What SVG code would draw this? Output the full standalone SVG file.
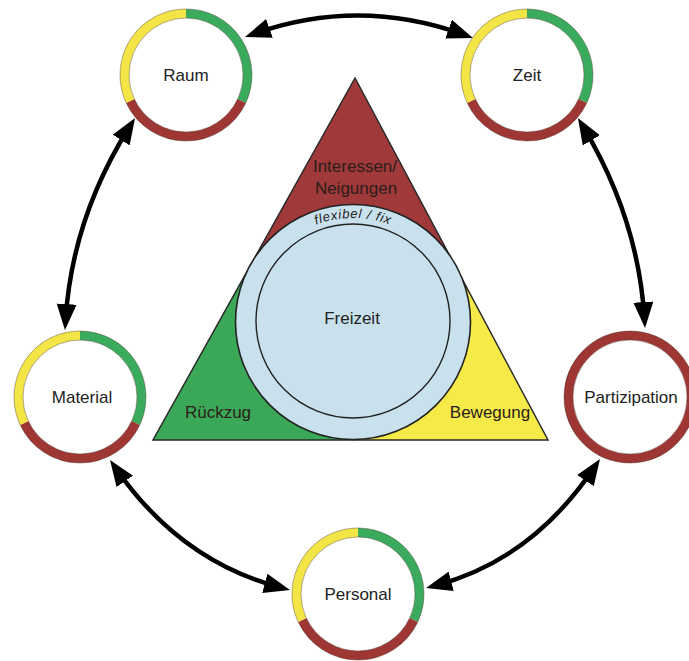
<svg xmlns="http://www.w3.org/2000/svg" xmlns:xlink="http://www.w3.org/1999/xlink" width="689" height="661" viewBox="0 0 689 661">
<style>
.lbl{font-family:"Liberation Sans",Arial,sans-serif;font-size:17px;fill:#222;text-anchor:middle}
.tlbl{font-family:"Liberation Sans",Arial,sans-serif;font-size:17px;fill:#2a1d1a;text-anchor:middle}
.arc{font-family:"Liberation Sans",Arial,sans-serif;font-size:13px;font-style:italic;fill:#222;letter-spacing:0.8px}
.conn{fill:none;stroke:#000;stroke-width:4.5}
.seg{fill:none;stroke-width:9}
.edge{fill:none;stroke:#4a3a30;stroke-width:0.7;stroke-opacity:0.6}
</style>
<defs>
<marker id="ah" markerUnits="userSpaceOnUse" markerWidth="26" markerHeight="20" viewBox="0 0 26 20" refX="16" refY="10" orient="auto-start-reverse">
<path d="M0,0 L26,10 L0,20 z" fill="#000"/>
</marker>
<g id="ring3">
<circle r="61.5" fill="#fff"/>
<path class="seg" stroke="#3aaa5c" d="M0,-61.5 A61.5,61.5 0 0 1 55.74,25.99"/>
<path class="seg" stroke="#9e3633" d="M55.74,25.99 A61.5,61.5 0 0 1 -55.74,25.99"/>
<path class="seg" stroke="#f3e545" d="M-55.74,25.99 A61.5,61.5 0 0 1 0,-61.5"/>
<circle class="edge" r="66"/>
<circle class="edge" r="57"/>
</g>
<g id="ringred">
<circle r="61.5" fill="#fff"/>
<circle class="seg" stroke="#9e3633" r="61.5"/>
<circle class="edge" r="66"/>
<circle class="edge" r="57"/>
</g>
<path id="flexarc" d="M249,322 A104,104 0 0 1 457,322"/>
</defs>

<g id="triangle">
<polygon points="355,78 250.7,264.9 353,322 455.8,267.1" fill="#a0393a"/>
<polygon points="153,440 250.7,264.9 353,322 353,440" fill="#3aa856"/>
<polygon points="548,440 455.8,267.1 353,322 353,440" fill="#f5ea48"/>
<polygon points="355,78 153,440 548,440" fill="none" stroke="#2a2a2a" stroke-width="1.5" stroke-linejoin="miter"/>
<text class="tlbl" x="355" y="172">Interessen/</text>
<text class="tlbl" x="356" y="194">Neigungen</text>
<text class="tlbl" x="218" y="418">Rückzug</text>
<text class="tlbl" x="490" y="418">Bewegung</text>
</g>

<g id="freizeit">
<circle cx="353" cy="322" r="117.5" fill="#c9e1ed" stroke="#222" stroke-width="1.6"/>
<circle cx="353" cy="321" r="97" fill="none" stroke="#222" stroke-width="1.4"/>
<text class="arc"><textPath xlink:href="#flexarc" href="#flexarc" startOffset="50%" text-anchor="middle">flexibel / fix</textPath></text>
<text class="lbl" x="352" y="324">Freizeit</text>
</g>

<g id="connectors">
<path class="conn" marker-start="url(#ah)" marker-end="url(#ah)" d="M254.4,33.7 Q359,-3 463.6,34.6"/>
<path class="conn" marker-start="url(#ah)" marker-end="url(#ah)" d="M129.7,126.5 Q72,218 65.6,320"/>
<path class="conn" marker-start="url(#ah)" marker-end="url(#ah)" d="M583.1,126.6 Q638,218 644.4,318"/>
<path class="conn" marker-start="url(#ah)" marker-end="url(#ah)" d="M115.7,468.2 Q180,561 280.3,587.5"/>
<path class="conn" marker-start="url(#ah)" marker-end="url(#ah)" d="M594.4,467.3 Q532,560 435.7,585.4"/>
</g>

<g id="node-raum">
<use href="#ring3" xlink:href="#ring3" x="186" y="75"/>
<text class="lbl" x="186" y="81">Raum</text>
</g>
<g id="node-zeit">
<use href="#ring3" xlink:href="#ring3" x="527" y="75"/>
<text class="lbl" x="527" y="81">Zeit</text>
</g>
<g id="node-material">
<use href="#ring3" xlink:href="#ring3" x="80" y="397"/>
<text class="lbl" x="82" y="403">Material</text>
</g>
<g id="node-partizipation">
<use href="#ringred" xlink:href="#ringred" x="630" y="397"/>
<text class="lbl" x="631" y="403">Partizipation</text>
</g>
<g id="node-personal">
<use href="#ring3" xlink:href="#ring3" x="358" y="594"/>
<text class="lbl" x="358" y="600">Personal</text>
</g>
</svg>
